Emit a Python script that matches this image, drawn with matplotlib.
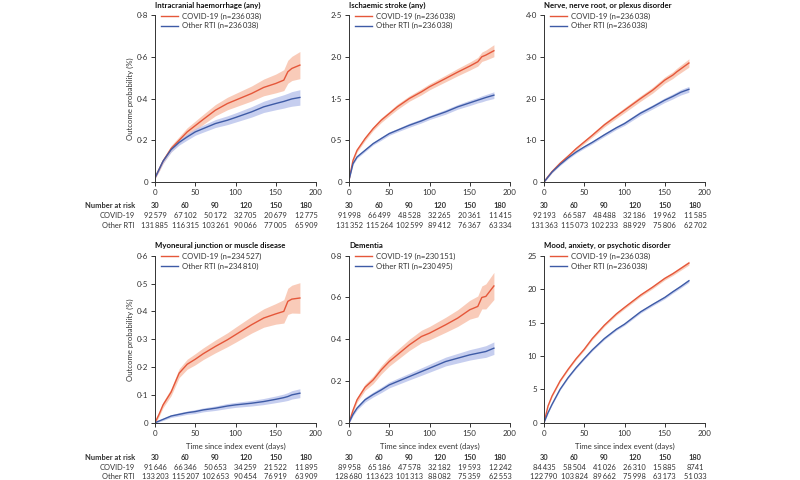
import matplotlib
matplotlib.use('Agg')
import matplotlib.pyplot as plt
import numpy as np

plt.rcParams['font.family'] = ['Lato', 'DejaVu Sans']
plt.rcParams['font.size'] = 5.4

# Time points (days)
days = [0, 5, 10, 20, 30, 40, 50, 60, 75, 90, 100, 120, 135, 150, 160, 165, 170, 180]

titles = ['Intracranial haemorrhage (any)', 'Ischaemic stroke (any)',
          'Nerve, nerve root, or plexus disorder', 'Myoneural junction or muscle disease',
          'Dementia', 'Mood, anxiety, or psychotic disorder']

n_covid = [236038, 236038, 236038, 234527, 230151, 236038]
n_rti = [236038, 236038, 236038, 234810, 230495, 236038]

ytick_labels = [['0', '0·2', '0·4', '0·6', '0·8'],
                ['0', '0·5', '1·5', '2·0', '2·5'],
                ['0', '1·0', '2·0', '3·0', '4·0'],
                ['0', '0·1', '0·2', '0·3', '0·4', '0·5', '0·6'],
                ['0', '0·2', '0·4', '0·6', '0·8'],
                ['0', '5', '10', '15', '20', '25']]
ytop = [0.8, 2.5, 4.0, 0.6, 0.8, 25]

# Intracranial haemorrhage
ich_covid = [0.02, 0.06, 0.10, 0.16, 0.20, 0.24, 0.27, 0.30, 0.344, 0.376, 0.392, 0.424, 0.453, 0.472, 0.488, 0.528, 0.544, 0.56]
ich_rti = [0.02, 0.06, 0.10, 0.155, 0.19, 0.216, 0.24, 0.256, 0.28, 0.296, 0.309, 0.336, 0.36, 0.376, 0.386, 0.392, 0.398, 0.405]
ich_covid_ci = [0.005, 0.01, 0.012, 0.015, 0.017, 0.02, 0.022, 0.024, 0.027, 0.03, 0.032, 0.036, 0.04, 0.045, 0.05, 0.055, 0.058, 0.065]
ich_rti_ci = [0.004, 0.008, 0.01, 0.012, 0.013, 0.015, 0.016, 0.017, 0.019, 0.021, 0.022, 0.025, 0.027, 0.03, 0.032, 0.033, 0.035, 0.037]

# Ischaemic stroke
str_covid = [0.03, 0.325, 0.475, 0.65, 0.80, 0.925, 1.025, 1.125, 1.25, 1.35, 1.425, 1.55, 1.645, 1.735, 1.80, 1.875, 1.90, 1.965]
str_rti = [0.03, 0.275, 0.375, 0.475, 0.575, 0.65, 0.725, 0.775, 0.85, 0.915, 0.965, 1.05, 1.125, 1.185, 1.225, 1.245, 1.265, 1.30]
str_covid_ci = [0.01, 0.02, 0.025, 0.03, 0.03, 0.035, 0.035, 0.04, 0.04, 0.045, 0.045, 0.05, 0.055, 0.06, 0.065, 0.07, 0.075, 0.09]
str_rti_ci = [0.01, 0.015, 0.02, 0.02, 0.02, 0.025, 0.025, 0.025, 0.03, 0.03, 0.03, 0.035, 0.035, 0.04, 0.04, 0.045, 0.045, 0.05]

# Nerve, nerve root, or plexus disorder
ner_covid = [0.0, 0.13, 0.25, 0.45, 0.62, 0.80, 0.96, 1.12, 1.37, 1.58, 1.72, 2.0, 2.2, 2.44, 2.56, 2.64, 2.71, 2.85]
ner_rti = [0.0, 0.12, 0.24, 0.42, 0.58, 0.72, 0.84, 0.95, 1.13, 1.30, 1.40, 1.65, 1.80, 1.96, 2.05, 2.10, 2.15, 2.22]
ner_covid_ci = [0.01, 0.02, 0.025, 0.03, 0.035, 0.04, 0.04, 0.045, 0.05, 0.055, 0.06, 0.065, 0.07, 0.075, 0.08, 0.085, 0.09, 0.10]
ner_rti_ci = [0.01, 0.015, 0.02, 0.025, 0.03, 0.03, 0.035, 0.035, 0.04, 0.04, 0.045, 0.05, 0.05, 0.055, 0.06, 0.06, 0.065, 0.07]

# Myoneural junction or muscle disease
myo_covid = [0.0, 0.03, 0.064, 0.11, 0.178, 0.21, 0.228, 0.248, 0.274, 0.298, 0.316, 0.352, 0.376, 0.391, 0.40, 0.436, 0.444, 0.448]
myo_rti = [0.0, 0.006, 0.012, 0.024, 0.03, 0.036, 0.04, 0.046, 0.052, 0.06, 0.064, 0.07, 0.076, 0.084, 0.09, 0.094, 0.10, 0.106]
myo_covid_ci = [0.005, 0.008, 0.01, 0.013, 0.016, 0.018, 0.02, 0.021, 0.023, 0.025, 0.027, 0.03, 0.033, 0.037, 0.042, 0.047, 0.05, 0.055]
myo_rti_ci = [0.002, 0.003, 0.004, 0.005, 0.006, 0.006, 0.007, 0.007, 0.008, 0.009, 0.009, 0.01, 0.011, 0.012, 0.013, 0.014, 0.015, 0.016]

# Dementia
dem_covid = [0.0, 0.06, 0.11, 0.17, 0.205, 0.253, 0.293, 0.325, 0.373, 0.413, 0.429, 0.469, 0.501, 0.541, 0.557, 0.60, 0.605, 0.655]
dem_rti = [0.0, 0.04, 0.07, 0.11, 0.135, 0.157, 0.181, 0.197, 0.221, 0.245, 0.261, 0.293, 0.309, 0.325, 0.333, 0.337, 0.341, 0.357]
dem_covid_ci = [0.005, 0.01, 0.012, 0.015, 0.018, 0.02, 0.022, 0.024, 0.027, 0.03, 0.032, 0.036, 0.04, 0.045, 0.05, 0.055, 0.06, 0.065]
dem_rti_ci = [0.004, 0.007, 0.009, 0.011, 0.012, 0.013, 0.014, 0.015, 0.016, 0.018, 0.019, 0.021, 0.023, 0.025, 0.026, 0.027, 0.028, 0.03]

# Mood, anxiety, or psychotic disorder
moo_covid = [0.0, 2.5, 4.0, 6.25, 8.0, 9.6, 11.0, 12.6, 14.6, 16.3, 17.25, 19.1, 20.3, 21.6, 22.3, 22.7, 23.1, 23.9]
moo_rti = [0.0, 1.5, 2.75, 5.0, 6.75, 8.25, 9.6, 10.9, 12.6, 14.0, 14.75, 16.6, 17.7, 18.75, 19.6, 20.0, 20.4, 21.25]
moo_covid_ci = [0.05, 0.1, 0.12, 0.14, 0.15, 0.16, 0.17, 0.18, 0.19, 0.2, 0.21, 0.22, 0.23, 0.24, 0.25, 0.26, 0.27, 0.3]
moo_rti_ci = [0.04, 0.08, 0.1, 0.11, 0.12, 0.13, 0.14, 0.15, 0.16, 0.17, 0.18, 0.19, 0.2, 0.21, 0.21, 0.22, 0.22, 0.24]

curves = [(ich_covid, ich_covid_ci, ich_rti, ich_rti_ci),
          (str_covid, str_covid_ci, str_rti, str_rti_ci),
          (ner_covid, ner_covid_ci, ner_rti, ner_rti_ci),
          (myo_covid, myo_covid_ci, myo_rti, myo_rti_ci),
          (dem_covid, dem_covid_ci, dem_rti, dem_rti_ci),
          (moo_covid, moo_covid_ci, moo_rti, moo_rti_ci)]

# Number at risk tables
risk_days = [30, 60, 90, 120, 150, 180]
risk_covid = [[92579, 67102, 50172, 32705, 20679, 12775],
              [91998, 66499, 48528, 32265, 20361, 11415],
              [92193, 66587, 48488, 32186, 19962, 11585],
              [91646, 66346, 50653, 34259, 21522, 11895],
              [89958, 65186, 47578, 32182, 19593, 12242],
              [84435, 58504, 41026, 26310, 15885, 8741]]
risk_rti = [[131885, 116315, 103261, 90066, 77005, 65909],
            [131352, 115264, 102599, 89412, 76367, 63334],
            [131363, 115073, 102233, 88929, 75806, 62702],
            [133203, 115207, 102653, 90454, 76919, 63909],
            [128680, 113623, 101313, 88082, 75359, 62553],
            [122790, 103824, 89662, 75998, 63173, 51033]]

c_covid, c_covid_band = '#e5573a', '#f8bfa8'
c_rti, c_rti_band = '#3e5ba6', '#b8c2ec'
txt = '#333333'


def fmt(n):
    # Thin space as thousands separator (Lancet style)
    return f'{n:,}'.replace(',', '\u2009') if n >= 10000 else str(n)


fig = plt.figure(figsize=(8, 4.8), dpi=100)

col_x = [155, 349, 544]
row_bottom = [182, 422.7]
W, H = 161, 167

for i in range(6):
    r, c = divmod(i, 3)
    ax = fig.add_axes([col_x[c] / 800, (480 - row_bottom[r]) / 480, W / 800, H / 480])
    cov, cov_ci, rti, rti_ci = [np.array(a) for a in curves[i]]

    # Bands and lines
    ax.fill_between(days, cov - cov_ci, cov + cov_ci, color=c_covid_band, lw=0, alpha=0.8)
    ax.fill_between(days, rti - rti_ci, rti + rti_ci, color=c_rti_band, lw=0, alpha=0.8)
    ax.plot(days, cov, color=c_covid, lw=1.0, label=f'COVID-19 (n={fmt(n_covid[i])})')
    ax.plot(days, rti, color=c_rti, lw=1.0, label=f'Other RTI (n={fmt(n_rti[i])})')

    ax.set_xlim(0, 200)
    ax.set_ylim(0, ytop[i])
    ax.set_xticks([0, 50, 100, 150, 200])
    ax.set_yticks(np.linspace(0, ytop[i], len(ytick_labels[i])))
    ax.set_yticklabels(ytick_labels[i])
    for s in ['top', 'right']:
        ax.spines[s].set_visible(False)
    for s in ['left', 'bottom']:
        ax.spines[s].set_linewidth(0.7)
        ax.spines[s].set_color(txt)
    ax.tick_params(length=3, width=0.7, pad=2, colors=txt, labelsize=5.8)

    ax.text(0, 1 + 10 / H, titles[i], transform=ax.transAxes, ha='left', va='center',
            fontweight='bold', fontsize=5.6, color='#111111')
    ax.legend(loc='upper left', bbox_to_anchor=(0.03, 1.025), frameon=False,
              borderaxespad=0, borderpad=0.2,
              handlelength=2.2, handletextpad=0.4, labelspacing=0.35, fontsize=5.6,
              labelcolor=txt)

    if c == 0:
        ax.set_ylabel('Outcome probability (%)', color=txt, labelpad=2, fontsize=5.6)
    if r == 1:
        ax.set_xlabel('Time since index event (days)', color=txt, labelpad=4.5, fontsize=5.6)
        ys = [-35 / H, -45 / H, -54 / H]
    else:
        ys = [-24 / H, -33.5 / H, -43 / H]

    # Number at risk
    for k in range(len(risk_days)):
        xk = k * 30.2 / W
        ax.text(xk, ys[0], str(risk_days[k]), transform=ax.transAxes, ha='center', va='center',
                fontweight='bold', color=txt)
        ax.text(xk, ys[1], fmt(risk_covid[i][k]), transform=ax.transAxes, ha='center', va='center', color=txt)
        ax.text(xk, ys[2], fmt(risk_rti[i][k]), transform=ax.transAxes, ha='center', va='center', color=txt)
    if c == 0:
        lx = -20 / W
        ax.text(lx, ys[0], 'Number at risk', transform=ax.transAxes, ha='right', va='center',
                fontweight='bold', color=txt)
        ax.text(lx, ys[1], 'COVID-19', transform=ax.transAxes, ha='right', va='center', color=txt)
        ax.text(lx, ys[2], 'Other RTI', transform=ax.transAxes, ha='right', va='center', color=txt)

fig.savefig('out.png', dpi=100)
